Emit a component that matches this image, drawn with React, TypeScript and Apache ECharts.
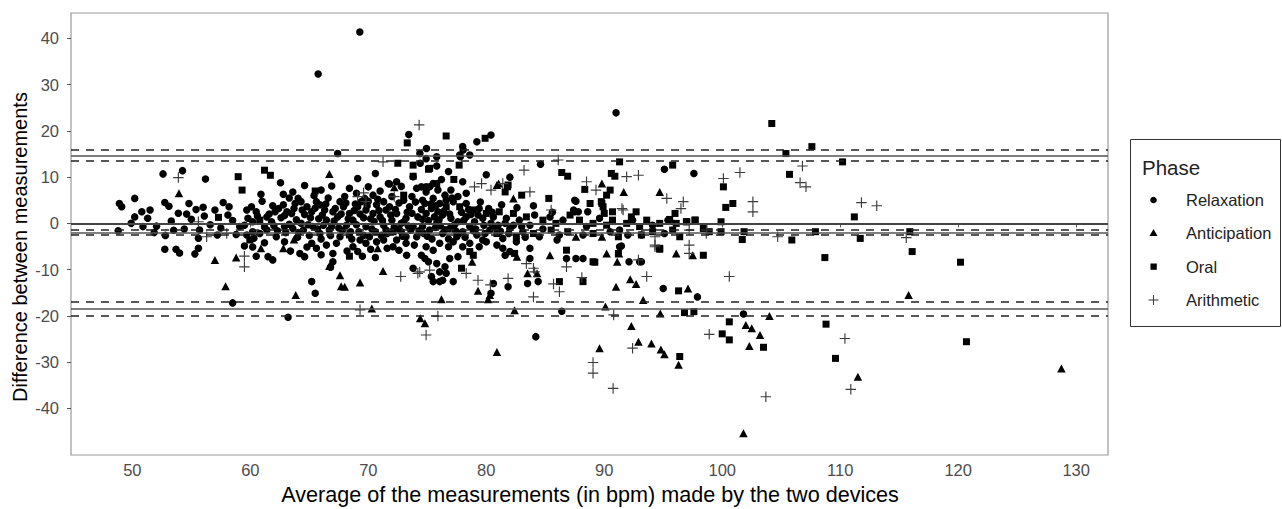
import React, { useEffect, useRef } from "react";
import * as echarts from "echarts";

// ---- data (x = average bpm, y = difference) ----
const relaxation: [number, number][] = [
  [48.9, 4.3], [49.1, 3.6], [48.8, -1.6], [49.9, 0], [50.2, 5.4], [50.8, 2.5], [51.5, 2.9], [51.3, 1.1], [50.2, 1.4],
  [52.6, 10.7], [54.25, 11.4], [56.2, 9.6], [62.56, 8.8], [66.9, 8.1], [69.1, 9.7], [70.6, 10.8], [70.0, 7.9], [71.7, 8.6],
  [73.8, 10.1], [74.1, 7.6], [60.9, 6.3], [62.8, 6.3], [63.6, 6.8], [52.75, 4.5], [53.1, 3.7], [54.8, 4.3], [55.4, 3.0],
  [56.1, 1.6], [53.9, 2.2], [57.7, 4.5], [58.1, 1.8], [52.05, -0.6], [51.85, -2.0], [55.7, -1.45], [55.6, -3.2],
  [52.75, -5.6], [53.7, -5.6], [54.0, -6.4], [55.6, -5.4], [55.3, -6.6], [59.5, -4.9], [60.5, -7.1], [61.5, -7.2],
  [61.9, -7.9], [58.5, -17.2], [63.2, -20.3], [65.2, -12.6], [65.5, -15.1], [73.8, -9.7], [66.8, -9.5], [67.0, -8.3],
  [67.0, -6.5], [69.1, -6.1], [69.5, -7.1], [70.6, -7.4], [71.6, -5.4], [73.25, -6.9], [73.9, -4.7], [64.2, -6.5],
  [64.6, -7.2], [65.2, -4.3], [65.6, -5.4], [64.8, -5.1], [62.9, -4.0], [60.2, -5.1], [65.75, 32.3], [67.4, 15.1],
  [69.28, 41.4], [73.43, 19.2], [79.2, 17.65], [80.4, 19.1], [74.93, 16.2], [74.37, 15.1], [75.8, 14.4], [78.04, 15.85],
  [78.6, 14.8], [77.8, 14.4], [74.4, 13.0], [75.8, 12.4], [84.6, 12.8], [72.4, 9.0], [71.8, 8.5], [74.5, 7.9], [74.9, 6.8],
  [75.2, 7.9], [87.6, 4.8], [87.4, 2.9], [87.8, 2.5], [88.6, 2.5], [91.0, 23.9], [95.1, 11.7], [97.6, 10.8], [93.15, -2.5],
  [92.1, -8.3], [93.15, -8.3], [91.45, -4.9], [95.0, -14.1], [97.9, -15.9], [101.8, -19.6], [84.2, -24.5], [86.4, -19.0],
  [74.5, -6.9], [74.8, -7.6], [75.1, -8.3], [75.35, -11.5], [76.05, -12.6], [76.3, -12.3], [77.2, -12.6], [75.5, -12.6],
  [75.8, -8.7], [76.5, -9.4], [76.9, -7.6], [77.6, -7.2], [76.05, -10.5], [76.6, -10.8], [80.6, -13.0], [80.4, -15.1],
  [81.85, -13.7], [81.6, -6.9], [82.0, -6.1], [83.7, -5.4], [83.7, -7.6], [84.4, -12.6], [83.5, -13.0], [86.8, -7.6],
  [87.6, -7.6], [88.2, -7.6], [91.3, -5.05], [93.0, -8.3], [74.9, 14.0], [78.0, 16.6], [77.75, 14.8], [87.5, 5.0],
  [59.7, 2.9], [60.1, 3.6], [60.5, 2.5], [59.8, 1.1], [59.5, -0.4], [60.2, 0.35], [61.4, 1.4], [61.8, 0.35], [62.1, 2.5],
  [62.4, 3.2], [62.8, 4.0], [63.1, 2.5], [63.5, 2.15], [63.8, 4.3], [64.05, 5.4], [64.3, 4.7], [64.8, 3.6], [65.2, 2.5],
  [65.6, 4.7], [65.9, 4.0], [66.3, 2.9], [66.45, 0.7], [67.0, 2.5], [67.4, 1.4], [67.6, 4.7], [67.9, 3.6], [68.4, 2.15],
  [68.7, 0.7], [69.1, 3.6], [69.4, 4.7], [69.8, 2.9], [70.4, 2.15], [70.7, 4.0], [71.0, 1.4], [71.3, -0.4], [71.5, 2.9],
  [72.0, 0.7], [72.4, 2.15], [72.8, 0], [73.2, 1.1], [73.5, 3.6], [73.8, -0.7], [74.2, 1.4], [74.1, -2.9], [73.2, -2.9],
  [72.4, -3.6], [71.3, -3.6], [70.1, -2.9], [69.3, -3.6], [67.6, -2.9], [66.7, -1.45], [65.9, -2.2], [65.3, -0.7],
  [64.5, -1.45], [63.6, -1.1], [62.9, -0.7], [62.2, -2.9], [61.4, -1.45], [60.8, -2.2], [60.2, -1.8], [59.7, -2.5],
  [59.1, -0.7], [64.3, 0], [66.2, -0.4], [68.15, -0.4], [69.8, -0.7], [71.5, -1.45], [72.8, -1.8],
  [74.6, 5.0], [75.5, 5.4], [76.05, 4.3], [77.2, 4.7], [78.3, 4.3], [79.4, 3.2], [80.6, 1.4], [81.7, 1.1], [82.8, 0.7],
  [84.1, 1.8], [85.4, 1.4], [86.5, 0.7], [87.5, 2.5], [88.5, -0.7], [89.6, 1.1], [91.3, -1.45], [92.4, 0.7], [94.1, -0.4],
  [95.4, 0.7], [74.6, -0.7], [75.2, -1.45], [75.8, 0], [76.3, -2.2], [76.9, -1.1], [77.5, -2.9], [78.0, -1.8], [78.6, -0.7],
  [79.2, -2.5], [79.7, -3.6], [80.3, -1.45], [81.4, -3.25], [82.0, -1.1], [83.1, -1.8], [84.5, -2.9], [86.2, -2.5],
  [88.2, -2.5], [90.5, -1.8], [92.0, -2.5], [95.1, -2.2], [74.9, 2.15], [75.6, 1.4], [76.3, 1.8], [77.0, 1.1], [77.6, 0.35],
  [78.3, 1.4], [79.0, 0.35], [79.7, 1.1], [80.4, 0], [81.0, -0.4], [81.6, 0], [82.3, -0.4], [83.0, -0.7], [83.7, -0.4],
  [74.9, 7.9], [75.5, 8.6], [75.9, 7.2], [76.5, 6.1], [77.0, 7.2], [77.6, 5.8], [78.3, 6.5], [74.8, 4.3], [75.35, 3.2],
  [75.9, 2.5], [76.6, 5.0], [74.9, -5.05], [75.5, -5.8], [76.05, -4.3], [76.8, -5.05], [77.2, -4.0], [78.0, -5.05],
  [79.4, -5.05], [80.0, -4.0], [80.9, -4.7], [81.4, -5.4], [82.55, -4.0], [78.6, -4.3], [66.45, -4.7], [67.3, -4.3],
  [68.7, -5.05], [69.8, -4.3], [70.7, -4.0], [72.1, -5.05], [73.2, -4.3], [69.0, 6.5], [69.7, 5.4], [70.4, 6.1],
  [71.3, 4.7], [72.0, 5.8], [73.0, 5.0], [73.7, 5.8],
  [61.0, 4.8], [61.6, 2.0], [62.0, -0.5], [62.6, 1.2], [63.0, -2.0], [63.3, 5.5], [63.9, 0.8], [64.0, -3.0], [64.6, 1.9],
  [65.0, -2.6], [65.4, 6.0], [65.8, 1.0], [66.0, -3.4], [66.6, 5.5], [66.9, -0.6], [67.2, 3.2], [67.8, -1.5], [68.0, 5.8],
  [68.3, 1.0], [68.6, -3.4], [68.9, 4.2], [69.2, -1.8], [69.6, 1.2], [70.0, 4.8], [70.3, -1.2], [70.5, 0.4], [70.9, 2.8],
  [71.1, -2.6], [71.8, 3.6], [72.2, -0.8], [72.6, 4.4], [72.9, -2.8], [73.3, 2.4], [73.6, -1.5], [74.0, 4.6], [74.5, 3.0],
  [74.7, -2.2], [75.1, 0.6], [75.4, -3.4], [75.7, 3.8], [76.1, -0.5], [76.4, 2.6], [76.8, -3.4], [77.1, 5.5], [77.4, -1.6],
  [77.9, 2.4], [78.2, -3.0], [78.7, 1.9], [79.1, -1.2], [79.5, 4.6], [79.9, -2.2], [80.2, 3.2], [80.8, -0.8], [81.3, 4.0],
  [81.9, -2.2], [82.6, 3.4], [83.3, -3.0], [84.0, 3.8], [84.8, -1.2], [85.6, 2.4], [86.0, -3.6], [58.5, 0.6], [58.8, -2.4],
  [57.5, -1.0], [57.0, 2.9], [56.6, -0.3], [55.0, 0.9], [54.4, -1.2], [53.3, 0.5], [52.8, -2.6], [60.3, -3.2], [61.2, -4.2],
  [63.4, -6.0], [66.0, -6.8], [68.2, -6.0], [70.2, -5.6], [72.6, -5.8], [71.0, 7.0], [68.4, 7.6], [66.0, 7.2], [64.6, 8.2],
  [72.8, 8.0], [76.2, 9.5], [78.0, 9.0], [80.0, 10.5], [82.0, 10.0], [76.8, 11.2],
  [60.6, 1.6], [61.2, -0.8], [61.9, 3.8], [62.3, -1.6], [62.9, 1.7], [63.3, -0.2], [63.7, 3.2], [64.1, -2.0], [64.4, 2.9],
  [64.9, -0.3], [65.1, 1.2], [65.5, 3.3], [65.7, -1.2], [66.1, 1.8], [66.4, 4.2], [66.8, -2.6], [67.1, 0.5], [67.5, -1.0],
  [67.7, 2.0], [68.1, 4.4], [68.5, -1.8], [68.8, 2.8], [69.0, -0.3], [69.3, 2.0], [69.6, -2.6], [69.9, 3.8], [70.2, 1.0],
  [70.6, -1.8], [70.8, 5.2], [71.2, 0.6], [71.6, -2.2], [71.9, 1.8], [72.3, 3.0], [72.6, -1.2], [73.0, 0.3], [73.4, -0.6],
  [73.7, 2.2], [74.3, -1.6], [74.6, 0.9], [75.0, -2.8], [75.3, 4.2], [75.7, -0.9], [76.0, 0.8], [76.5, -1.4], [76.9, 2.0],
  [77.3, -0.3], [77.7, -2.2], [78.1, 0.7], [78.5, 3.0], [78.9, -1.6], [79.3, 1.8], [79.8, -0.4], [80.5, 2.4], [81.2, -1.7],
  [58.2, 3.6], [57.2, -2.5], [56.0, 3.5], [54.6, 2.0], [53.5, -1.5], [50.9, -0.7],
];

const anticipation: [number, number][] = [
  [53.95, 6.5], [66.7, 10.7], [72.2, 7.8], [57.0, -7.9], [58.8, -7.4], [57.9, -13.6], [63.85, -15.5], [70.3, -18.4],
  [67.6, -11.2], [67.7, -13.6], [68.0, -13.7], [69.3, -12.8], [71.25, -10.3], [66.7, -9.2], [70.8, -5.4], [62.8, -5.4],
  [63.7, -3.5], [60.9, -5.4], [82.3, 5.4], [80.9, 8.3], [89.8, 8.6], [91.65, 6.8], [94.7, 6.8], [81.05, 8.6], [76.2, -16.4],
  [78.8, -8.3], [79.3, -14.6], [80.3, -15.5], [80.15, -16.4], [82.6, -7.2], [83.5, -10.8], [84.3, -10.8], [82.4, -18.8],
  [85.4, -6.9], [90.2, -6.5], [91.1, -8.3], [91.25, -6.5], [91.0, -13.7], [92.2, -12.1], [92.7, -13.1], [97.1, -14.1],
  [93.3, -16.6], [90.1, -18.0], [94.75, -19.5], [92.3, -22.2], [96.1, -6.5], [97.5, -6.9], [102.0, -22.0], [102.5, -22.7],
  [103.2, -24.15], [102.3, -26.5], [104.0, -20.05], [111.5, -33.2], [101.8, -45.4], [92.9, -25.6], [94.0, -26.0],
  [94.8, -27.3], [95.1, -28.3], [96.3, -30.6], [89.6, -27.0], [115.8, -15.5], [128.75, -31.4], [80.9, -27.8],
  [74.4, -20.5], [74.8, -21.6], [87.6, -2.9], [89.8, -2.9],
];

const oral: [number, number][] = [
  [73.3, 17.4], [72.5, 13.0], [73.8, 12.6], [58.97, 10.1], [59.3, 7.2], [61.2, 11.5], [61.7, 10.4], [65.5, 7.0], [57.3, 1.3],
  [73.0, 6.1], [59.96, -3.6], [68.4, -7.1], [76.6, 18.9], [79.9, 18.4], [75.1, 11.7], [77.7, 12.6], [86.4, 11.0], [86.9, 10.2],
  [88.35, 7.35], [73.8, 10.2], [75.8, 8.6], [77.25, 9.5], [81.85, 8.3], [81.6, 6.8], [83.0, 6.1], [85.3, 5.4], [88.8, 4.3],
  [75.2, 11.9], [91.3, 13.3], [95.8, 12.6], [90.6, 10.8], [90.9, 10.2], [90.5, 7.2], [90.2, 6.1], [89.75, 4.7], [89.9, 3.6],
  [90.7, 2.5], [92.7, 2.5], [96.0, 2.15], [81.8, 7.9], [104.2, 21.6], [107.6, 16.6], [105.4, 15.1], [110.2, 13.3],
  [105.7, 10.6], [100.1, 7.9], [89.8, 4.3], [90.0, 2.15], [100.3, 3.45], [100.9, 4.3], [92.3, 1.4], [95.55, 0.85],
  [96.96, 0.35], [97.7, 0.7], [99.9, 0.35], [111.2, 1.4], [101.85, -1.8], [107.9, -1.8], [105.9, -3.6], [99.9, -1.8],
  [94.1, -1.8], [94.7, -5.6], [98.4, -6.9], [101.7, -3.5], [108.7, -7.4], [89.2, -8.4], [91.2, -6.5], [96.3, -14.6],
  [96.8, -19.3], [97.6, -19.1], [100.6, -21.3], [100.0, -23.9], [100.6, -25.2], [103.5, -26.8], [108.8, -21.8],
  [109.6, -29.2], [96.4, -28.8], [111.7, -3.25], [115.9, -1.8], [116.1, -6.1], [120.2, -8.4], [120.7, -25.6], [77.9, -9.7],
  [78.9, -6.9], [78.6, -6.1], [82.4, -6.5], [86.2, -12.6], [88.2, -12.6], [86.8, -5.8], [89.05, -8.3], [94.7, -5.4],
  [60.8, 0.7], [72.1, -1.8], [68.4, -2.5], [76.6, 3.6], [77.75, 3.6], [78.9, 2.9], [80.0, 2.15], [81.1, 2.5], [82.3, 2.15],
  [83.4, 1.4], [84.8, 0.7], [85.9, 0], [87.1, 1.8], [87.9, 0.7], [89.05, 0], [90.2, -0.4], [90.7, 0.7], [91.9, 0], [93.0, -0.7],
  [93.6, 0.7], [94.7, 0], [96.1, 0], [97.0, 0.35], [97.7, 0.7], [98.4, -1.1], [98.9, -1.8], [80.9, -2.2], [82.55, -2.9],
  [84.0, -2.2], [85.5, -1.45], [86.9, -1.8], [89.05, -2.2], [91.2, -2.9], [93.15, -2.5], [95.8, -1.45], [96.4, -2.9],
];

const arithmetic: [number, number][] = [
  [53.9, 9.9], [58.0, -2.2], [55.6, 0.35], [56.3, -2.9], [59.5, -7.1], [59.5, -9.4], [69.3, -18.7], [72.75, -11.5],
  [71.25, 13.3], [74.31, 21.3], [86.1, 13.7], [83.2, 11.5], [88.5, 9.0], [89.3, 7.2], [79.0, 7.9], [79.6, 8.6], [80.4, 7.2],
  [81.4, 8.6], [83.7, 6.8], [85.5, 2.9], [69.1, 5.8], [69.6, 6.6], [69.8, 4.7], [72.2, 5.8], [74.2, -10.8], [91.9, 10.1],
  [92.9, 10.4], [95.3, 5.4], [96.7, 4.7], [96.5, 3.2], [91.5, 3.2], [106.8, 12.4], [106.6, 8.8], [107.1, 7.9], [101.5, 11.0],
  [100.1, 9.7], [102.6, 4.7], [102.6, 2.5], [91.6, 2.9], [111.8, 4.5], [113.1, 3.8], [104.7, -2.9], [98.7, -1.45],
  [115.6, -3.1], [94.3, -2.9], [94.3, -4.7], [97.2, -4.7], [97.2, -6.5], [92.9, -7.9], [93.6, -11.5], [100.6, -11.5],
  [90.8, -19.8], [98.9, -24.0], [110.4, -24.9], [110.9, -35.9], [103.7, -37.5], [92.4, -27.0], [89.05, -30.1],
  [89.05, -32.4], [90.75, -35.7], [74.9, -24.15], [75.9, -20.05], [75.2, -10.1], [74.36, -10.5], [78.3, -10.8],
  [79.3, -12.3], [80.35, -13.3], [81.85, -11.9], [83.4, -8.7], [84.0, -9.7], [84.1, -10.5], [84.0, -15.9], [85.7, -13.1],
  [86.2, -14.8], [86.8, -9.4], [88.1, -11.7], [94.3, -5.05], [97.2, -1.45], [98.65, -2.2],
];

// horizontal reference lines
const zeroLine = 0;
const solidLines = [14.55, -1.95, -18.5];
const dashedLines = [15.85, 13.5, -1.4, -2.45, -17.0, -20.0];

const xTicks = [50, 60, 70, 80, 90, 100, 110, 120, 130];
const yTicks = [-40, -30, -20, -10, 0, 10, 20, 30, 40];

const FONT = "Liberation Sans, Arial, sans-serif";
const CROSS = "path://M0,4.45H10V5.55H0Z M4.45,0H5.55V10H4.45Z";

export default function App() {
  const ref = useRef<HTMLDivElement>(null);
  useEffect(() => {
    if (!ref.current) return;
    const chart = echarts.init(ref.current, null, { renderer: "svg" });
    const markLine = {
      silent: true,
      symbol: "none",
      label: { show: false },
      animation: false,
      data: [
        { yAxis: zeroLine, lineStyle: { type: "solid", color: "#444", width: 1.8 } },
        ...solidLines.map((v) => ({ yAxis: v, lineStyle: { type: "solid", color: "#555", width: 1.6 } })),
        ...dashedLines.map((v) => ({ yAxis: v, lineStyle: { type: [8, 7], color: "#222", width: 1.5 } })),
      ],
    };
    const lx = 1130.5, ly = 139.5;
    chart.setOption({
      animation: false,
      grid: { left: 71, top: 13, right: 174, bottom: 54, show: true, borderColor: "#999", borderWidth: 1.2, backgroundColor: "#fff" },
      xAxis: {
        type: "value", min: 44.8, max: 132.7,
        splitLine: { show: false },
        axisLine: { show: false },
        axisTick: { show: true, length: 4, lineStyle: { color: "#555" }, customValues: xTicks },
        axisLabel: { color: "#4d4d4d", fontSize: 16.5, fontFamily: FONT, margin: 6, customValues: xTicks },
      },
      yAxis: {
        type: "value", min: -50.1, max: 45.5,
        splitLine: { show: false },
        axisLine: { show: false },
        axisTick: { show: true, length: 4, lineStyle: { color: "#555" }, customValues: yTicks },
        axisLabel: { color: "#4d4d4d", fontSize: 16.5, fontFamily: FONT, margin: 12, customValues: yTicks },
      },
      series: [
        { name: "Relaxation", type: "scatter", data: relaxation, symbol: "circle", symbolSize: 7.5, itemStyle: { color: "#000", opacity: 1 }, markLine },
        { name: "Anticipation", type: "scatter", data: anticipation, symbol: "triangle", symbolSize: [8.5, 8], itemStyle: { color: "#000", opacity: 1 } },
        { name: "Oral", type: "scatter", data: oral, symbol: "rect", symbolSize: 7, itemStyle: { color: "#000", opacity: 1 } },
        { name: "Arithmetic", type: "scatter", data: arithmetic, symbol: CROSS, symbolSize: 10.5, itemStyle: { color: "#3c3c3c", opacity: 1 } },
      ],
      graphic: [
        { type: "text", x: 590, y: 494, style: { text: "Average of the measurements (in bpm) made by the two devices", font: `21.6px ${FONT}`, fill: "#000", textAlign: "center", textVerticalAlign: "middle" } },
        { type: "text", x: 20, y: 247, rotation: Math.PI / 2, style: { text: "Difference between measurements", font: `20px ${FONT}`, fill: "#000", textAlign: "center", textVerticalAlign: "middle" } },
        { type: "rect", shape: { x: lx, y: ly, width: 150, height: 187 }, style: { fill: "#fff", stroke: "#333", lineWidth: 1 } },
        { type: "text", x: 1142, y: 167, style: { text: "Phase", font: `20.5px ${FONT}`, fill: "#222", textVerticalAlign: "middle" } },
        { type: "circle", shape: { cx: 1153.5, cy: 200, r: 3.3 }, style: { fill: "#000" } },
        { type: "polygon", shape: { points: [[1153.5, 229], [1157.5, 236], [1149.5, 236]] }, style: { fill: "#000" } },
        { type: "rect", shape: { x: 1150.5, y: 263.5, width: 6.3, height: 6.3 }, style: { fill: "#000" } },
        { type: "line", shape: { x1: 1148.5, y1: 300, x2: 1158.5, y2: 300 }, style: { stroke: "#444", lineWidth: 1.1 } },
        { type: "line", shape: { x1: 1153.5, y1: 295, x2: 1153.5, y2: 305 }, style: { stroke: "#444", lineWidth: 1.1 } },
        { type: "text", x: 1186, y: 200, style: { text: "Relaxation", font: `16.5px ${FONT}`, fill: "#222", textVerticalAlign: "middle" } },
        { type: "text", x: 1186, y: 233, style: { text: "Anticipation", font: `16.5px ${FONT}`, fill: "#222", textVerticalAlign: "middle" } },
        { type: "text", x: 1186, y: 267, style: { text: "Oral", font: `16.5px ${FONT}`, fill: "#222", textVerticalAlign: "middle" } },
        { type: "text", x: 1186, y: 300, style: { text: "Arithmetic", font: `16.5px ${FONT}`, fill: "#222", textVerticalAlign: "middle" } },
      ],
    });
    return () => chart.dispose();
  }, []);
  return <div ref={ref} style={{ position: "fixed", left: 0, top: 0, width: 1282, height: 509, background: "#fff" }} />;
}
